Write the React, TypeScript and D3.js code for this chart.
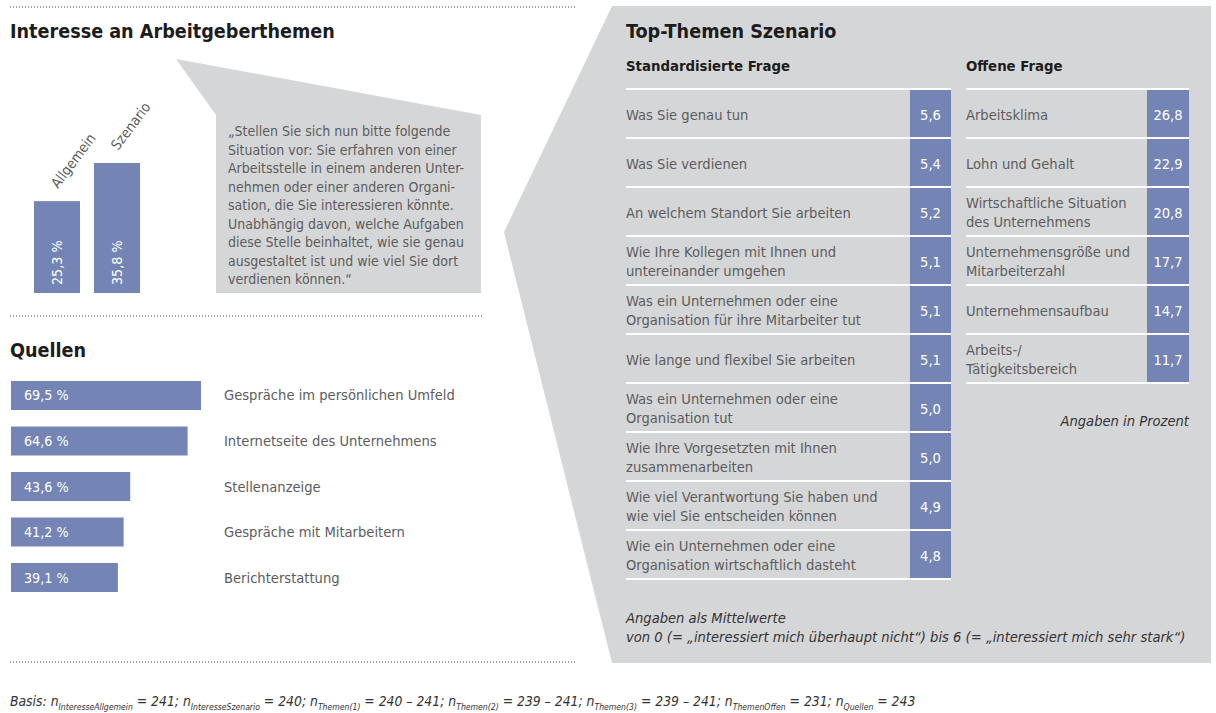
import React, { useEffect, useRef } from 'react'
import * as d3 from 'd3'

const interestCats = ['Allgemein', 'Szenario']
const interestVals = [25.3, 35.8]

const quoteLines = [
  '„Stellen Sie sich nun bitte folgende',
  'Situation vor: Sie erfahren von einer',
  'Arbeitsstelle in einem anderen Unter-',
  'nehmen oder einer anderen Organi-',
  'sation, die Sie interessieren könnte.',
  'Unabhängig davon, welche Aufgaben',
  'diese Stelle beinhaltet, wie sie genau',
  'ausgestaltet ist und wie viel Sie dort',
  'verdienen können.“',
]

const sourceLabels = [
  'Gespräche im persönlichen Umfeld',
  'Internetseite des Unternehmens',
  'Stellenanzeige',
  'Gespräche mit Mitarbeitern',
  'Berichterstattung',
]
const sourceVals = [69.5, 64.6, 43.6, 41.2, 39.1]

const stdLabels = [
  'Was Sie genau tun',
  'Was Sie verdienen',
  'An welchem Standort Sie arbeiten',
  'Wie Ihre Kollegen mit Ihnen und\nuntereinander umgehen',
  'Was ein Unternehmen oder eine\nOrganisation für ihre Mitarbeiter tut',
  'Wie lange und flexibel Sie arbeiten',
  'Was ein Unternehmen oder eine\nOrganisation tut',
  'Wie Ihre Vorgesetzten mit Ihnen\nzusammenarbeiten',
  'Wie viel Verantwortung Sie haben und\nwie viel Sie entscheiden können',
  'Wie ein Unternehmen oder eine\nOrganisation wirtschaftlich dasteht',
]
const stdVals = [5.6, 5.4, 5.2, 5.1, 5.1, 5.1, 5.0, 5.0, 4.9, 4.8]

const openLabels = [
  'Arbeitsklima',
  'Lohn und Gehalt',
  'Wirtschaftliche Situation\ndes Unternehmens',
  'Unternehmensgröße und\nMitarbeiterzahl',
  'Unternehmensaufbau',
  'Arbeits-/\nTätigkeitsbereich',
]
const openVals = [26.8, 22.9, 20.8, 17.7, 14.7, 11.7]

const basisParts = [
  ['Basis: n', 'InteresseAllgemein'],
  [' = 241; n', 'InteresseSzenario'],
  [' = 240; n', 'Themen(1)'],
  [' = 240 – 241; n', 'Themen(2)'],
  [' = 239 – 241; n', 'Themen(3)'],
  [' = 239 – 241; n', 'ThemenOffen'],
  [' = 231; n', 'Quellen'],
  [' = 243', ''],
]

const FONT = '"DejaVu Sans Condensed", "Liberation Sans Narrow", "DejaVu Sans", sans-serif'
const BLUE = '#7384b5'
const GRAY = '#d5d6d8'
const TXT = '#5c5c5c'
const DARK = '#1c1c1c'
const BODY = 14.6

const de = d3.formatLocale({ decimal: ',', thousands: '.', grouping: [3], currency: ['', ' €'] })
const f1 = de.format('.1f')

export default function App() {
  const ref = useRef(null)

  useEffect(() => {
    const svg = d3.select(ref.current)
    svg.selectAll('*').remove()
    svg.style('font-family', FONT)

    // background shapes
    svg.append('polygon')
      .attr('points', '612,6 1211,6 1211,663 612,663 504,232')
      .attr('fill', GRAY)
    svg.append('polygon')
      .attr('points', '176,59 481,115 481,293 216,293 216,115')
      .attr('fill', GRAY)

    // dotted rules
    const dots = [[10, 575, 7], [10, 482, 316], [10, 575, 662]]
    svg.selectAll('line.dot').data(dots).enter().append('line')
      .attr('x1', d => d[0]).attr('x2', d => d[1])
      .attr('y1', d => d[2]).attr('y2', d => d[2])
      .attr('stroke', '#444').attr('stroke-width', 1).attr('stroke-dasharray', '1,2')

    const title = (x, y, t, size = 19.6) => svg.append('text')
      .attr('x', x).attr('y', y).attr('font-size', size).attr('font-weight', 'bold')
      .attr('fill', DARK).text(t)

    title(10, 38, 'Interesse an Arbeitgeberthemen')
    title(10, 357, 'Quellen')
    title(626, 38, 'Top-Themen Szenario')
    title(626, 71, 'Standardisierte Frage', 14.8)
    title(966, 71, 'Offene Frage', 14.8)

    // interest bars
    const xI = d3.scaleBand().domain(interestCats).range([34, 140]).paddingInner(0.233)
    const yI = d3.scaleLinear().domain([0, 35.8]).range([293, 163])
    const gI = svg.append('g')
    gI.selectAll('rect').data(interestVals).enter().append('rect')
      .attr('x', (d, i) => xI(interestCats[i]))
      .attr('y', d => yI(d))
      .attr('width', xI.bandwidth())
      .attr('height', d => yI(0) - yI(d))
      .attr('fill', BLUE)
    gI.selectAll('text.v').data(interestVals).enter().append('text')
      .attr('transform', (d, i) => `translate(${xI(interestCats[i]) + xI.bandwidth() / 2 + 5},${yI(0) - 8}) rotate(-90)`)
      .attr('font-size', 14.2).attr('fill', '#fff')
      .text(d => f1(d) + ' %')
    gI.selectAll('text.c').data(interestCats).enter().append('text')
      .attr('transform', (d, i) => `translate(${xI(d) + xI.bandwidth() / 2 + 1},${yI(interestVals[i]) - 12}) rotate(-53)`)
      .attr('font-size', 14.2).attr('fill', TXT)
      .text(d => d)

    // quote
    svg.append('text').attr('font-size', 14).attr('fill', TXT)
      .selectAll('tspan').data(quoteLines).enter().append('tspan')
      .attr('x', 228).attr('y', (d, i) => 136 + i * 18.5)
      .text(d => d)

    // sources
    const xS = d3.scaleLinear().domain([0, 69.5]).range([11, 201])
    const yS = d3.scaleBand().domain(sourceLabels).range([381, 592]).paddingInner(0.363)
    const gS = svg.append('g')
    gS.selectAll('rect').data(sourceVals).enter().append('rect')
      .attr('x', xS(0)).attr('y', (d, i) => yS(sourceLabels[i]))
      .attr('width', d => xS(d) - xS(0)).attr('height', yS.bandwidth())
      .attr('fill', BLUE)
    gS.selectAll('text.v').data(sourceVals).enter().append('text')
      .attr('x', 24).attr('y', (d, i) => yS(sourceLabels[i]) + yS.bandwidth() / 2 + 5)
      .attr('font-size', 14.2).attr('fill', '#fff')
      .text(d => f1(d) + ' %')
    gS.selectAll('text.l').data(sourceLabels).enter().append('text')
      .attr('x', 224).attr('y', d => yS(d) + yS.bandwidth() / 2 + 5)
      .attr('font-size', BODY).attr('fill', TXT)
      .text(d => d)

    // tables
    const table = (labels, vals, x0, x1, cw) => {
      const y = d3.scaleBand().domain(d3.range(labels.length)).range([89, 89 + 49 * labels.length])
      const g = svg.append('g')
      g.selectAll('rect').data(vals).enter().append('rect')
        .attr('x', x1 - cw).attr('y', (d, i) => y(i))
        .attr('width', cw).attr('height', y.bandwidth())
        .attr('fill', BLUE)
      g.selectAll('line').data(d3.range(labels.length + 1)).enter().append('line')
        .attr('x1', x0).attr('x2', x1)
        .attr('y1', i => 89 + 49 * i).attr('y2', i => 89 + 49 * i)
        .attr('stroke', '#fff').attr('stroke-width', 2)
      g.selectAll('text.v').data(vals).enter().append('text')
        .attr('x', x1 - cw / 2).attr('y', (d, i) => y(i) + y.bandwidth() / 2 + 6)
        .attr('text-anchor', 'middle').attr('font-size', BODY).attr('fill', '#fff')
        .text(d => f1(d))
      labels.forEach((lab, i) => {
        const lines = lab.split('\n')
        const cy = y(i) + y.bandwidth() / 2 + 1
        const t = g.append('text').attr('font-size', BODY).attr('fill', TXT)
        lines.forEach((ln, j) => {
          t.append('tspan').attr('x', x0)
            .attr('y', cy + 5 + (j - (lines.length - 1) / 2) * 18.3)
            .text(ln)
        })
      })
    }
    table(stdLabels, stdVals, 626, 951, 41)
    table(openLabels, openVals, 966, 1189, 42)

    const note = (x, y, t, anchor = 'start') => svg.append('text')
      .attr('x', x).attr('y', y).attr('text-anchor', anchor)
      .attr('font-size', 14.6).attr('font-style', 'italic').attr('fill', '#333').text(t)
    note(1189, 426, 'Angaben in Prozent', 'end')
    note(626, 623, 'Angaben als Mittelwerte')
    note(626, 642, 'von 0 (= „interessiert mich überhaupt nicht“) bis 6 (= „interessiert mich sehr stark“)')

    // footer
    const ft = svg.append('text').attr('x', 10).attr('y', 706)
      .attr('font-size', 13.8).attr('font-style', 'italic').attr('fill', '#333')
    basisParts.forEach(([main, sub], i) => {
      ft.append('tspan').attr('dy', i === 0 ? 0 : -4).text(main)
      if (sub) ft.append('tspan').attr('dy', 4).attr('font-size', 8.6).text(sub)
    })
  }, [])

  return (
    <svg ref={ref} width={1216} height={713} style={{ position: 'absolute', left: 0, top: 0 }} />
  )
}
